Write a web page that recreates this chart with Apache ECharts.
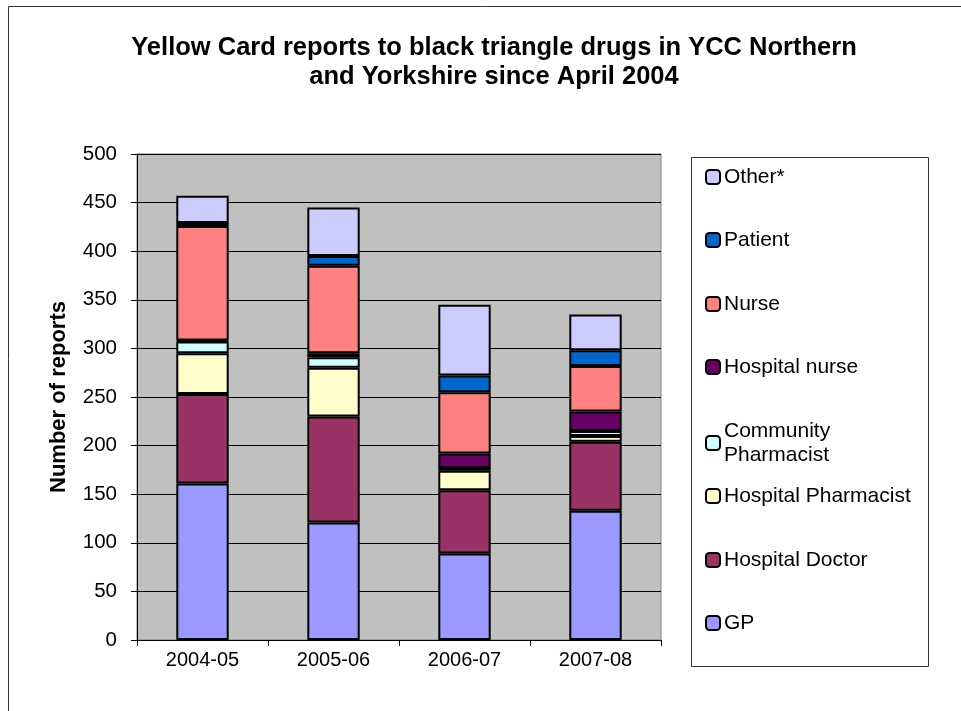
<!DOCTYPE html>
<html lang="en">
<head>
<meta charset="UTF-8">
<title>Yellow Card reports</title>
<script src="https://cdn.jsdelivr.net/npm/echarts@6/dist/echarts.min.js"></script>
<style>
  html, body { margin: 0; padding: 0; background: #fff; }
  #chart { width: 961px; height: 711px; }
</style>
</head>
<body>
<div id="chart"></div>
<script>
// data
var years = ['2004-05', '2005-06', '2006-07', '2007-08'];
var gp = [161, 121, 89, 133];
var hospDoctor = [92, 109, 65, 71];
var hospPharm = [42, 50, 20, 6];
var commPharm = [12, 11, 3, 5];
var hospNurse = [1, 4, 15, 20];
var nurse = [118, 90, 63, 47];
var patient = [3, 10, 17, 16];
var other = [28, 50, 73, 37];
var yTicks = { min: 0, max: 500, step: 50 };

var font = "'Liberation Sans', Arial, sans-serif";

// bottom-up stacking order
var seriesDefs = [
  { name: 'GP', data: gp, color: '#9999FF' },
  { name: 'Hospital Doctor', data: hospDoctor, color: '#993366' },
  { name: 'Hospital Pharmacist', data: hospPharm, color: '#FFFFCC' },
  { name: 'Community Pharmacist', data: commPharm, color: '#CCFFFF' },
  { name: 'Hospital nurse', data: hospNurse, color: '#660066' },
  { name: 'Nurse', data: nurse, color: '#FF8080' },
  { name: 'Patient', data: patient, color: '#0066CC' },
  { name: 'Other*', data: other, color: '#CCCCFF' }
];

// legend rows, top to bottom, with their y positions
var legendTops = {
  'Other*': 160, 'Patient': 223, 'Nurse': 287, 'Hospital nurse': 350,
  'Community Pharmacist': 414, 'Hospital Pharmacist': 479,
  'Hospital Doctor': 543, 'GP': 606
};

var legends = Object.keys(legendTops).map(function (name) {
  return {
    data: [name],
    left: 700,
    top: legendTops[name],
    orient: 'vertical',
    itemWidth: 14,
    itemHeight: 14,
    itemGap: 6,
    selectedMode: false,
    formatter: function (n) { return n === 'Community Pharmacist' ? 'Community\nPharmacist' : n; },
    textStyle: { fontFamily: font, fontSize: 21, color: '#000', lineHeight: 24, padding: [0, 0, 0, -1] }
  };
});

var chart = echarts.init(document.getElementById('chart'));

chart.setOption({
  animation: false,
  backgroundColor: '#fff',
  title: {
    text: 'Yellow Card reports to black triangle drugs in YCC Northern\nand Yorkshire since April 2004',
    left: 489,
    top: 28,
    textAlign: 'center',
    textStyle: { fontFamily: font, fontSize: 25.5, fontWeight: 'bold', color: '#000', lineHeight: 29 }
  },
  legend: legends,
  grid: {
    left: 137, right: 300, top: 154, bottom: 71,
    show: true, backgroundColor: '#C0C0C0', borderColor: '#808080', borderWidth: 1
  },
  xAxis: {
    type: 'category',
    data: years,
    axisLine: { lineStyle: { color: '#000', width: 1 } },
    axisTick: { show: true, length: 6, lineStyle: { color: '#000' } },
    axisLabel: { fontFamily: font, fontSize: 20, color: '#000', margin: 10 }
  },
  yAxis: {
    type: 'value',
    min: yTicks.min, max: yTicks.max, interval: yTicks.step,
    name: 'Number of reports',
    nameLocation: 'middle',
    nameGap: 67,
    nameTextStyle: { fontFamily: font, fontSize: 22, fontWeight: 'bold', color: '#000' },
    axisLine: { show: true, lineStyle: { color: '#000', width: 1 } },
    axisTick: { show: true, length: 6, lineStyle: { color: '#000' } },
    axisLabel: { fontFamily: font, fontSize: 20.5, color: '#000', margin: 20 },
    splitLine: { lineStyle: { color: '#000', width: 1 } }
  },
  series: seriesDefs.map(function (s) {
    return {
      name: s.name,
      type: 'bar',
      stack: 'total',
      barWidth: '40%',
      data: s.data,
      itemStyle: { color: s.color, borderColor: '#000', borderWidth: 2 }
    };
  }),
  graphic: [
    {
      type: 'rect',
      shape: { x: 8.5, y: 6.5, width: 1000, height: 800 },
      style: { fill: 'none', stroke: '#333', lineWidth: 1 },
      silent: true
    },
    {
      type: 'rect',
      shape: { x: 691.5, y: 157.5, width: 237, height: 509 },
      style: { fill: 'none', stroke: '#333', lineWidth: 1 },
      silent: true
    }
  ]
});
</script>
</body>
</html>
